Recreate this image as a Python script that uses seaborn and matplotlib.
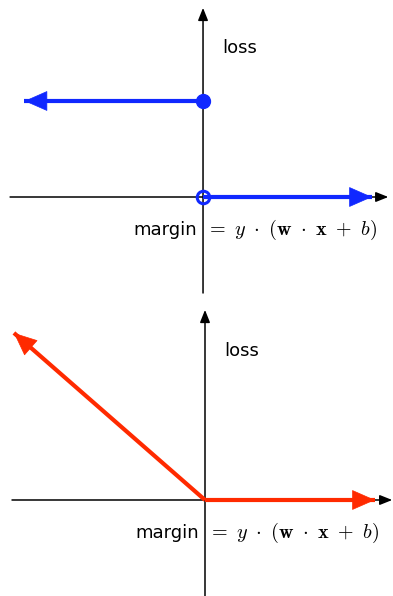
import numpy as np
import pandas as pd
import seaborn as sns
import matplotlib.pyplot as plt

# zero-one loss (top panel), margin in units of the axes
zo_left_x = [-1.86, 0.0]
zo_left_y = [1.0, 1.0]
zo_right_x = [0.0, 1.76]
zo_right_y = [0.0, 0.0]

# hinge-like loss (bottom panel)
hinge_left_x = [-1.99, 0.0]
hinge_left_y = [1.74, 0.0]
hinge_right_x = [0.0, 1.77]
hinge_right_y = [0.0, 0.0]

blue = "#1028ff"
red = "#ff2a00"

sns.set_theme(style="white")
plt.rcParams["font.family"] = ["DejaVu Sans"]
plt.rcParams["mathtext.fontset"] = "cm"
plt.rcParams["text.color"] = "black"

fig = plt.figure(figsize=(3.93, 5.96), dpi=100)
ax_top = fig.add_axes([0, 0.5, 1, 0.5])
ax_bot = fig.add_axes([0, 0, 1, 0.5])


def draw_axes(ax, xlim, ylim, xaxis, yaxis):
    ax.set_xlim(*xlim)
    ax.set_ylim(*ylim)
    ax.axis("off")
    small = dict(arrowstyle="-|>,head_length=0.75,head_width=0.3",
                 color="black", lw=1.1, shrinkA=0, shrinkB=0, mutation_scale=10)
    ax.annotate("", xy=(xaxis[1], 0), xytext=(xaxis[0], 0), arrowprops=small, zorder=1)
    ax.annotate("", xy=(0, yaxis[1]), xytext=(0, yaxis[0]), arrowprops=small, zorder=1)


def draw_branch(ax, xs, ys, color, arrow_end):
    df = pd.DataFrame({"margin": xs, "loss": ys})
    sns.lineplot(data=df, x="margin", y="loss", ax=ax, color=color, lw=3.0,
                 sort=False, estimator=None, solid_capstyle="butt", zorder=4)
    big = dict(arrowstyle="-|>,head_length=1.55,head_width=0.68",
               color=color, lw=0.5, shrinkA=0, shrinkB=0, mutation_scale=10)
    i = -1 if arrow_end else 0
    j = -2 if arrow_end else 1
    ax.annotate("", xy=(xs[i], ys[i]), xytext=(xs[j], ys[j]), arrowprops=big, zorder=4)


def labels(ax):
    ax.text(0.2, 1.55, "loss", fontsize=13, va="center", ha="left")
    ax.text(-0.06, -0.34, "margin", fontsize=13, va="center", ha="right")
    ax.text(0.03, -0.34,
            r"$=\ y\ \cdot\ (\mathbf{w}\ \cdot\ \mathbf{x}\ +\ b)$",
            fontsize=14.5, va="center", ha="left")


# top panel
draw_axes(ax_top, (-2.115, 1.979), (-1.052, 2.052), (-2.01, 1.93), (-1.0, 1.97))
draw_branch(ax_top, zo_left_x, zo_left_y, blue, arrow_end=False)
draw_branch(ax_top, zo_right_x, zo_right_y, blue, arrow_end=True)
ax_top.plot(0, 1, "o", color=blue, ms=10, zorder=5)
ax_top.plot(0, 0, "o", mfc="none", mec=blue, mew=2.2, ms=9, zorder=5)
labels(ax_top)

# bottom panel
draw_axes(ax_bot, (-2.135, 1.958), (-1.0, 2.104), (-2.01, 1.95), (-1.0, 1.98))
draw_branch(ax_bot, hinge_left_x, hinge_left_y, red, arrow_end=False)
draw_branch(ax_bot, hinge_right_x, hinge_right_y, red, arrow_end=True)
labels(ax_bot)

fig.savefig("out.png", dpi=100)
